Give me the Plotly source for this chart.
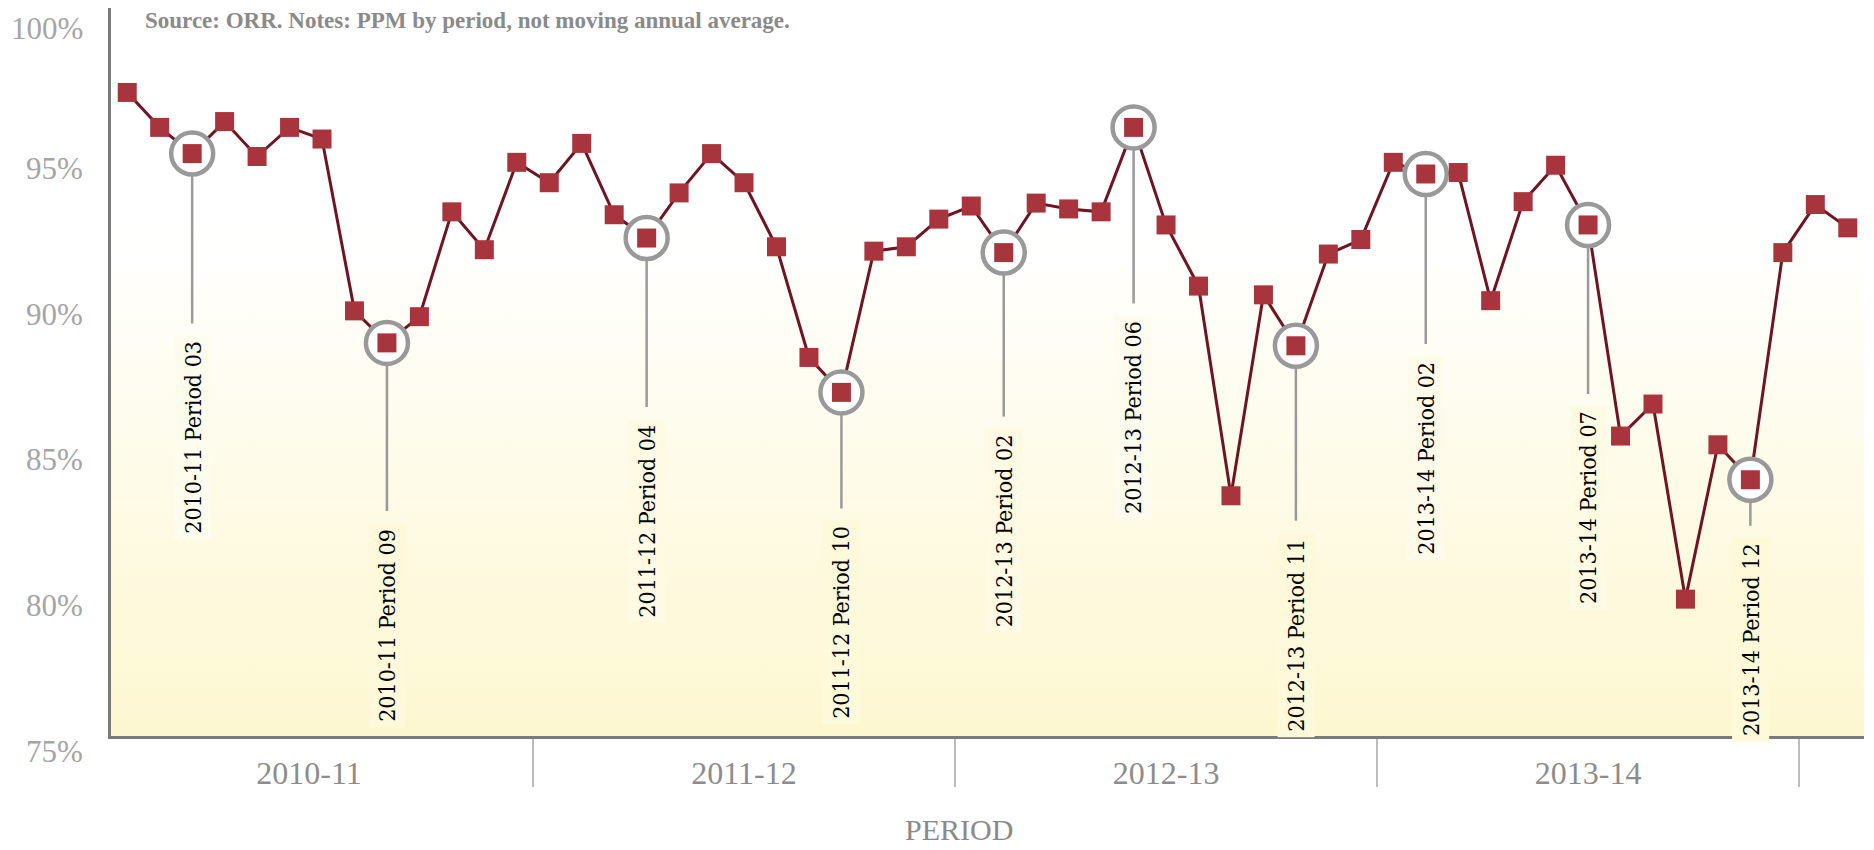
import plotly.graph_objects as go

# ---- data ----
years = ["2010-11", "2011-12", "2012-13", "2013-14", "2014-15"]
periods_per_year = 13
ppm = [97.1, 95.9, 95.0, 96.1, 94.9, 95.9, 95.5, 89.6, 88.5, 89.4, 93.0, 91.7, 94.7,
       94.0, 95.35, 92.9, 92.1, 93.65, 95.0, 94.0, 91.8, 88.0, 86.8, 91.65, 91.8, 92.75,
       93.2, 91.6, 93.3, 93.1, 93.0, 95.9, 92.55, 90.45, 83.25, 90.15, 88.4, 91.55, 92.05,
       94.7, 94.3, 94.35, 89.95, 93.35, 94.6, 92.55, 85.3, 86.4, 79.7, 85.0, 83.8, 91.6,
       93.25, 92.45]
# highlighted periods (year, period)
highlights = [("2010-11", 3), ("2010-11", 9), ("2011-12", 4), ("2011-12", 10),
              ("2012-13", 2), ("2012-13", 6), ("2012-13", 11), ("2013-14", 2),
              ("2013-14", 7), ("2013-14", 12)]
# label centre offsets below the point (pixels)
label_offsets = [284, 282, 283, 230, 278, 290, 289, 284, 283, 160]
# where the year names sit along the period axis
year_label_pos = [5.6, 19, 32, 45]

y_ticks = [75, 80, 85, 90, 95, 100]
y_grid = [80, 85, 90, 95]

# ---- derived ----
labels = []
for yr in years:
    for p in range(1, periods_per_year + 1):
        labels.append((yr, p))
labels = labels[:len(ppm)]
x = list(range(len(ppm)))
idx = {lab: i for i, lab in enumerate(labels)}
hx = [idx[h] for h in highlights]
hy = [ppm[i] for i in hx]

year_bounds = [i * periods_per_year + periods_per_year - 0.5 for i in range(4)]
xmin, xmax = -0.5, len(ppm) - 0.5

# page body has an 8px margin, so the figure is sized to fill the rest of the window
W, H = 1866, 842
M = dict(l=103, r=10, t=0, b=114)
plot_h = H - M["t"] - M["b"]
ymin, ymax = 75, 100
px_per_unit = plot_h / (ymax - ymin)

# gradient stops: (fraction from bottom, rgb)
grad = [(0.0, (253, 247, 208)), (0.35, (254, 251, 232)), (0.7, (255, 255, 255)), (1.0, (255, 255, 255))]


def grad_color(v):
    f = (v - ymin) / (ymax - ymin)
    f = min(max(f, 0), 1)
    for (f0, c0), (f1, c1) in zip(grad[:-1], grad[1:]):
        if f0 <= f <= f1:
            t = (f - f0) / (f1 - f0) if f1 > f0 else 0
            c = [round(a + (b - a) * t) for a, b in zip(c0, c1)]
            return "rgb({},{},{})".format(*c)
    return "white"


fig = go.Figure()

# gradient background
fig.add_trace(go.Scatter(
    x=[xmin, xmax, xmax, xmin, xmin], y=[ymin, ymin, ymax, ymax, ymin],
    mode="lines", line=dict(width=0), fill="toself",
    fillgradient=dict(type="vertical",
                      colorscale=[[f, "rgb({},{},{})".format(*c)] for f, c in grad]),
    hoverinfo="skip", showlegend=False))

fig.add_trace(go.Scatter(x=x, y=ppm, mode="lines",
                         line=dict(color="#6e1423", width=3),
                         hoverinfo="skip", showlegend=False))
fig.add_trace(go.Scatter(x=hx, y=hy, mode="markers",
                         marker=dict(symbol="circle", size=42, color="white",
                                     line=dict(color="#999999", width=4.5)),
                         hoverinfo="skip", showlegend=False))
fig.add_trace(go.Scatter(x=x, y=ppm, mode="markers",
                         marker=dict(symbol="square", size=19, color="#a8353e",
                                     line=dict(width=0)),
                         showlegend=False))

for (yr, p), xi, yi, off in zip(highlights, hx, hy, label_offsets):
    centre_v = yi - off / px_per_unit
    fig.add_annotation(
        x=xi, y=yi, text=f"{yr} Period {p:02d}", textangle=-90,
        showarrow=True, arrowhead=0, arrowwidth=2.5, arrowcolor="#9a9a9a",
        ax=0, ay=off, standoff=21, startstandoff=12,
        bgcolor=grad_color(centre_v), borderpad=5,
        font=dict(family="DejaVu Serif Condensed, DejaVu Serif", size=23, color="#000000"))

# y-axis tick labels (sit slightly below their gridlines)
for v in y_ticks:
    fig.add_annotation(
        xref="paper", yref="y", x=0, y=v, xanchor="right", yanchor="middle",
        xshift=-26, yshift=(-20 if v == ymax else -15), text=f"{v}%", showarrow=False,
        font=dict(family="Liberation Serif", size=31, color="#a5a5a5"))

fig.add_annotation(
    xref="paper", yref="paper", x=0.0183, y=0.9835, xanchor="left", yanchor="middle",
    text="<b>Source: ORR. Notes: PPM by period, not moving annual average.</b>",
    showarrow=False, font=dict(family="Liberation Serif", size=23, color="#8a8a8a"))

fig.add_annotation(
    xref="paper", yref="paper", x=0.484, y=-0.129, xanchor="center", yanchor="middle",
    text="PERIOD", showarrow=False,
    font=dict(family="Liberation Serif", size=30, color="#8a8a8a"))

fig.update_layout(
    width=W, height=H,
    margin=M,
    paper_bgcolor="white", plot_bgcolor="white",
    xaxis=dict(range=[xmin, xmax], showgrid=False, zeroline=False,
               showline=True, linecolor="#7a7a7a", linewidth=3,
               tickmode="array", tickvals=year_label_pos, ticktext=years[:4], ticks="",
               tickfont=dict(family="Liberation Serif", size=32, color="#8c8c8c"),
               ticklabelstandoff=7,
               minor=dict(tickmode="array", tickvals=year_bounds, ticks="outside",
                          ticklen=48, tickcolor="#bdbdbd", tickwidth=2, showgrid=False)),
    yaxis=dict(range=[ymin, ymax], showgrid=False, zeroline=False,
               showline=True, linecolor="#7a7a7a", linewidth=3,
               tickmode="array", tickvals=y_ticks, showticklabels=False, ticks="",
               minor=dict(tickmode="array", tickvals=y_grid, showgrid=True,
                          gridcolor="#bdbdbd", gridwidth=2, ticks="")),
)

fig.write_html("out.html")
